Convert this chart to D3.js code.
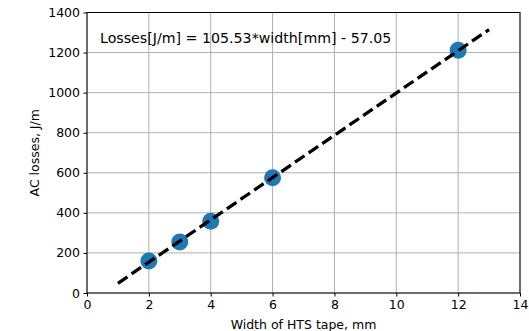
<!DOCTYPE html>
<html>
<head>
<meta charset="utf-8">
<script src="https://cdn.jsdelivr.net/npm/d3@7"></script>
<style>
  body { margin: 0; background: #fff; }
  text { font-family: "DejaVu Sans", sans-serif; fill: #000; }
</style>
</head>
<body>
<svg id="chart" width="529" height="331"></svg>
<script>
// measured points
var widths = [2, 3, 4, 6, 12];
var losses = [160, 255, 358, 575, 1212];

// fit line
var fitSlope = 105.53;
var fitIntercept = -57.05;
var fitRange = [1, 13];
var fitLabel = 'Losses[J/m] = 105.53*width[mm] - 57.05';

var xTicks = [0, 2, 4, 6, 8, 10, 12, 14];
var yTicks = [0, 200, 400, 600, 800, 1000, 1200, 1400];

var margin = {left: 87, right: 9, top: 12.5, bottom: 38};
var W = 529, H = 331;

var svg = d3.select('#chart');

var x = d3.scaleLinear().domain([0, 14]).range([margin.left, W - margin.right]);
var y = d3.scaleLinear().domain([0, 1400]).range([H - margin.bottom, margin.top]);

// grid
var grid = svg.append('g');
grid.selectAll('line.gx').data(xTicks).enter().append('line')
  .attr('x1', function(d) { return x(d); }).attr('x2', function(d) { return x(d); })
  .attr('y1', y(0)).attr('y2', y(1400))
  .attr('stroke', '#b0b0b0').attr('stroke-width', 1);
grid.selectAll('line.gy').data(yTicks).enter().append('line')
  .attr('y1', function(d) { return y(d); }).attr('y2', function(d) { return y(d); })
  .attr('x1', x(0)).attr('x2', x(14))
  .attr('stroke', '#b0b0b0').attr('stroke-width', 1);

// points
svg.selectAll('circle.pt').data(widths).enter().append('circle')
  .attr('cx', function(d) { return x(d); })
  .attr('cy', function(d, i) { return y(losses[i]); })
  .attr('r', 8.5)
  .attr('fill', '#1f77b4');

// fit line, drawn over the points
var fitData = fitRange.map(function(w) { return [w, fitSlope * w + fitIntercept]; });
svg.append('path')
  .datum(fitData)
  .attr('d', d3.line().x(function(d) { return x(d[0]); }).y(function(d) { return y(d[1]); }))
  .attr('fill', 'none')
  .attr('stroke', '#000')
  .attr('stroke-width', 3.3)
  .attr('stroke-dasharray', '11.5,5');

// axes
var xAxis = d3.axisBottom(x).tickValues(xTicks).tickFormat(d3.format('d')).tickSize(3.5).tickPadding(3.5);
var yAxis = d3.axisLeft(y).tickValues(yTicks).tickFormat(d3.format('d')).tickSize(3.5).tickPadding(3.5);

var gx = svg.append('g').attr('transform', 'translate(0,' + y(0) + ')').call(xAxis);
var gy = svg.append('g').attr('transform', 'translate(' + x(0) + ',0)').call(yAxis);
[gx, gy].forEach(function(g) {
  g.select('.domain').remove();
  g.selectAll('text').style('font-size', '12.5px').style('font-family', '"DejaVu Sans", sans-serif').attr('fill', '#000');
  g.selectAll('line').attr('stroke', '#000').attr('stroke-width', 1);
});

// frame
svg.append('rect')
  .attr('x', x(0)).attr('y', y(1400))
  .attr('width', x(14) - x(0)).attr('height', y(0) - y(1400))
  .attr('fill', 'none').attr('stroke', '#000').attr('stroke-width', 1);

// labels
svg.append('text')
  .attr('x', 100).attr('y', 43)
  .style('font-size', '14.2px')
  .text(fitLabel);

svg.append('text')
  .attr('x', (x(0) + x(14)) / 2).attr('y', 329)
  .attr('text-anchor', 'middle')
  .style('font-size', '12.5px')
  .text('Width of HTS tape, mm');

svg.append('text')
  .attr('transform', 'translate(38.5,' + ((y(0) + y(1400)) / 2) + ') rotate(-90)')
  .attr('text-anchor', 'middle')
  .style('font-size', '12.5px')
  .text('AC losses, J/m');
</script>
</body>
</html>
